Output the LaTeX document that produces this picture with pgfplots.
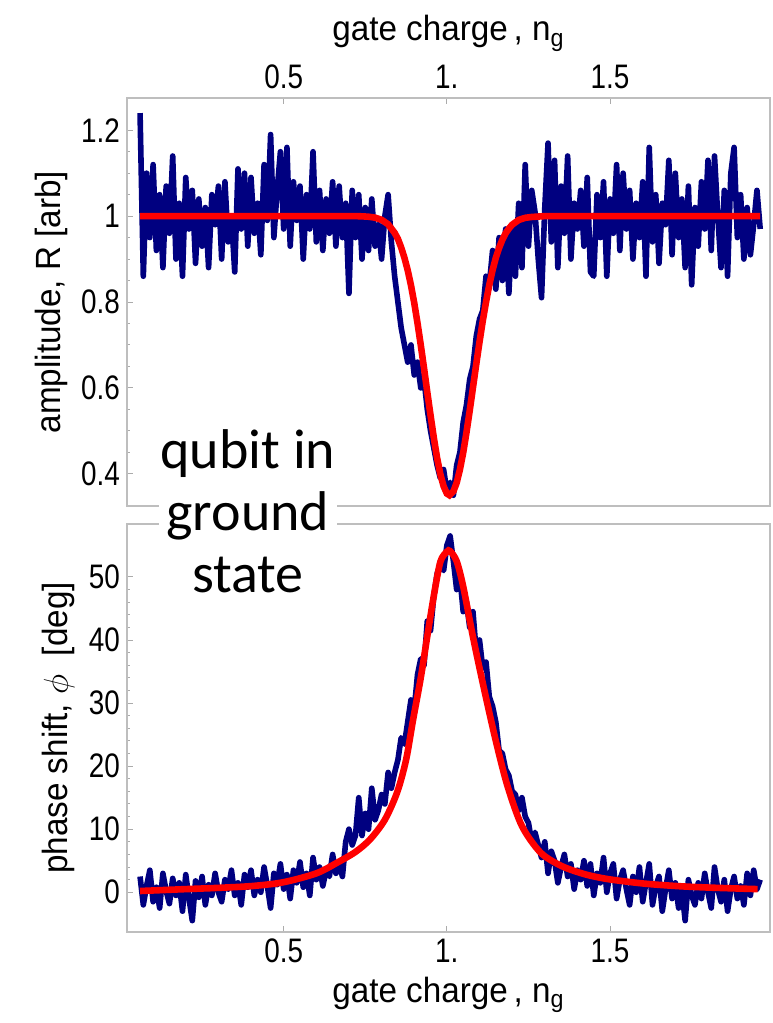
\documentclass[border=0pt]{standalone}
\usepackage{fontspec}
\usepackage{pgfplots}
\pgfplotsset{compat=1.18}
\setmainfont{Liberation Sans}
\newfontfamily\tickfont{Liberation Sans}[FakeStretch=0.82]
\newfontfamily\labfont{Liberation Sans}[FakeStretch=0.95]
\newfontfamily\qfont{Carlito}
\definecolor{dnavy}{RGB}{0,0,128}
\definecolor{framegray}{RGB}{190,190,190}
\pgfplotsset{
  mystyle/.style={
    width=321.5pt, height=204pt, scale only axis,
    xmin=0.02, xmax=1.99,
    axis line style={framegray, line width=0.6pt},
    tick style={framegray!90!black, line width=0.5pt},
    major tick length=3pt, minor tick length=1.6pt,
    tick align=inside,
    ytick pos=left,
    xtick={0.5,1,1.5}, xticklabels={0.5,1.,1.5},
    /pgf/number format/assume math mode=true,
    ticklabel style={font=\fontsize{17}{20}\tickfont},
    label style={font=\fontsize{17.5}{20}\labfont},
  }
}
\begin{document}
\begin{tikzpicture}[x=1pt,y=1pt]
\path[use as bounding box] (0,0) rectangle (386,511.5);
% top panel
\begin{axis}[mystyle, at={(63.5pt,258.5pt)}, anchor=south west,
  ymin=0.325, ymax=1.275,
  xtick pos=upper, xticklabel pos=upper,
  ytick={0.4,0.6,0.8,1,1.2}, yticklabels={0.4,0.6,0.8,1,1.2},
  minor y tick num=3,
  xlabel={gate charge\,, n\textsubscript{g}},
  ylabel={amplitude, R [arb]},
  xticklabel style={yshift=1pt},
]
\addplot[dnavy, line width=2.8pt, line join=round] coordinates {
(0.06,1.24)(0.07,0.86)(0.08,1.10)(0.09,0.95)(0.10,1.12)(0.11,0.92)(0.12,1.05)(0.13,0.88)(0.14,1.07)(0.15,0.96)
(0.16,1.14)(0.17,0.90)(0.18,1.03)(0.19,0.86)(0.20,1.09)(0.21,0.97)(0.22,1.06)(0.23,0.89)(0.24,1.04)(0.25,0.93)
(0.26,1.02)(0.27,0.88)(0.28,1.05)(0.29,0.98)(0.30,1.07)(0.31,0.90)(0.32,1.08)(0.33,0.94)(0.34,1.00)(0.35,0.87)
(0.36,1.11)(0.37,0.97)(0.38,1.10)(0.39,0.93)(0.40,1.09)(0.41,0.96)(0.42,1.03)(0.43,0.91)(0.44,1.12)(0.45,0.99)
(0.46,1.19)(0.47,0.95)(0.48,1.06)(0.49,1.15)(0.50,0.97)(0.51,1.16)(0.52,0.93)(0.53,1.08)(0.54,0.99)(0.55,1.07)
(0.56,0.90)(0.57,1.05)(0.58,0.97)(0.59,1.15)(0.60,0.94)(0.61,1.06)(0.62,0.92)(0.63,1.04)(0.64,0.96)(0.65,1.08)
(0.66,0.93)(0.67,1.07)(0.68,0.95)(0.69,1.03)(0.70,0.82)(0.71,1.06)(0.72,0.95)(0.73,1.05)(0.74,0.90)(0.75,1.02)
(0.76,0.92)(0.77,1.04)(0.78,0.93)(0.79,0.98)(0.80,0.90)(0.81,1.00)(0.82,1.05)(0.83,0.94)(0.84,0.86)(0.85,0.80)
(0.86,0.74)(0.87,0.70)(0.88,0.66)(0.89,0.70)(0.90,0.63)(0.91,0.66)(0.92,0.60)(0.93,0.62)(0.94,0.55)(0.95,0.50)
(0.96,0.46)(0.97,0.42)(0.98,0.39)(0.99,0.41)(1.00,0.36)(1.01,0.38)(1.02,0.35)(1.03,0.42)(1.04,0.45)(1.05,0.52)
(1.06,0.56)(1.07,0.62)(1.08,0.65)(1.09,0.72)(1.10,0.76)(1.11,0.78)(1.12,0.86)(1.13,0.84)(1.14,0.92)(1.15,0.83)
(1.16,0.95)(1.17,0.85)(1.18,0.97)(1.19,0.82)(1.20,0.98)(1.21,0.86)(1.22,1.03)(1.23,0.88)(1.24,1.12)(1.25,0.93)
(1.26,1.06)(1.27,1.01)(1.28,0.90)(1.29,0.81)(1.30,1.02)(1.31,1.17)(1.32,0.94)(1.33,1.13)(1.34,0.88)(1.35,1.07)
(1.36,0.96)(1.37,1.14)(1.38,0.90)(1.39,1.03)(1.40,0.97)(1.41,1.06)(1.42,0.93)(1.43,1.09)(1.44,0.87)(1.45,0.86)
(1.46,1.05)(1.47,0.95)(1.48,1.08)(1.49,0.86)(1.50,1.04)(1.51,0.96)(1.52,1.12)(1.53,0.92)(1.54,1.10)(1.55,0.97)
(1.56,1.06)(1.57,0.90)(1.58,1.03)(1.59,0.95)(1.60,1.08)(1.61,0.86)(1.62,1.16)(1.63,0.94)(1.64,1.05)(1.65,0.89)
(1.66,1.03)(1.67,0.98)(1.68,1.13)(1.69,0.91)(1.70,1.10)(1.71,0.95)(1.72,1.04)(1.73,0.88)(1.74,1.07)(1.75,0.84)
(1.76,1.02)(1.77,0.93)(1.78,1.08)(1.79,0.97)(1.80,1.13)(1.81,0.92)(1.82,1.14)(1.83,1.00)(1.84,0.88)(1.85,1.06)
(1.86,0.86)(1.87,1.10)(1.88,1.16)(1.89,0.95)(1.90,1.05)(1.91,0.90)(1.92,1.02)(1.93,0.91)(1.94,0.98)(1.95,1.06)
(1.96,0.97)
};
\addplot[red, line width=3.3pt] coordinates {
(0.06,1)(0.70,1)(0.72,1)(0.74,0.9995)(0.76,0.9986)(0.78,0.9964)(0.80,0.9914)(0.82,0.981)(0.84,0.961)(0.85,0.947)
(0.86,0.927)(0.87,0.903)(0.88,0.874)(0.89,0.839)(0.90,0.798)(0.91,0.751)(0.92,0.700)(0.93,0.646)(0.94,0.590)
(0.95,0.536)(0.96,0.484)(0.97,0.437)(0.98,0.399)(0.99,0.371)(1.00,0.354)(1.008,0.350)(1.02,0.359)(1.03,0.379)
(1.04,0.410)(1.05,0.449)(1.06,0.496)(1.07,0.547)(1.08,0.601)(1.09,0.655)(1.10,0.707)(1.11,0.756)(1.12,0.800)
(1.13,0.840)(1.14,0.874)(1.15,0.903)(1.16,0.926)(1.17,0.945)(1.18,0.960)(1.19,0.971)(1.20,0.980)(1.22,0.991)
(1.24,0.996)(1.26,0.998)(1.30,1)(1.96,1)
};
\end{axis}
% bottom panel
\begin{axis}[mystyle, at={(63.5pt,45.5pt)}, anchor=south west,
  ymin=-6.3, ymax=58.4,
  xtick pos=lower, xticklabel pos=lower,
  ytick={0,10,20,30,40,50},
  minor y tick num=4,
  xlabel={gate charge\,, n\textsubscript{g}},
  ylabel={phase shift, $\phi$\ \ [deg]},
]
\addplot[dnavy, line width=2.8pt, line join=round] coordinates {
(0.06,2.5)(0.07,-2.0)(0.08,1.0)(0.09,3.5)(0.10,-1.5)(0.11,0.8)(0.12,-2.5)(0.13,3.0)(0.14,0.2)(0.15,-1.8)
(0.16,2.2)(0.17,-0.5)(0.18,1.5)(0.19,-3.0)(0.20,2.8)(0.21,-1.0)(0.22,-4.5)(0.23,1.8)(0.24,-0.8)(0.25,2.5)
(0.26,-2.0)(0.27,1.2)(0.28,-0.5)(0.29,3.0)(0.30,0.0)(0.31,-1.5)(0.32,2.0)(0.33,0.5)(0.34,3.5)(0.35,-0.5)
(0.36,1.5)(0.37,-2.0)(0.38,2.8)(0.39,0.8)(0.40,3.5)(0.41,-0.5)(0.42,2.0)(0.43,0.0)(0.44,4.0)(0.45,1.0)
(0.46,-2.5)(0.47,3.0)(0.48,1.2)(0.49,4.5)(0.50,0.5)(0.51,2.8)(0.52,-1.0)(0.53,3.5)(0.54,1.5)(0.55,4.8)
(0.56,0.8)(0.57,3.0)(0.58,-0.5)(0.59,5.5)(0.60,2.0)(0.61,4.0)(0.62,1.0)(0.63,3.5)(0.64,2.5)(0.65,6.0)
(0.66,3.0)(0.67,4.5)(0.68,2.5)(0.69,8.0)(0.70,10.0)(0.71,7.5)(0.72,9.0)(0.73,15.0)(0.74,9.0)(0.75,12.5)
(0.76,10.0)(0.77,16.5)(0.78,11.5)(0.79,13.0)(0.80,15.5)(0.81,14.0)(0.82,19.0)(0.83,16.5)(0.84,19.0)(0.85,21.0)
(0.86,24.5)(0.87,23.5)(0.88,27.0)(0.89,30.5)(0.90,29.0)(0.91,34.5)(0.92,37.0)(0.93,36.0)(0.94,43.0)(0.95,41.5)
(0.96,47.0)(0.97,50.5)(0.98,52.0)(0.99,51.0)(1.00,55.0)(1.01,56.5)(1.02,52.5)(1.03,48.0)(1.04,50.0)(1.05,44.5)
(1.06,46.0)(1.07,42.0)(1.08,44.5)(1.09,38.0)(1.10,40.0)(1.11,35.5)(1.12,36.5)(1.13,31.0)(1.14,29.5)(1.15,27.0)
(1.16,22.5)(1.17,22.0)(1.18,19.5)(1.19,18.5)(1.20,16.0)(1.21,15.5)(1.22,13.0)(1.23,15.0)(1.24,12.0)(1.25,11.0)
(1.26,8.0)(1.27,9.5)(1.28,7.5)(1.29,5.5)(1.30,8.0)(1.31,3.0)(1.32,6.5)(1.33,5.0)(1.34,1.5)(1.35,4.0)
(1.36,6.0)(1.37,2.5)(1.38,4.5)(1.39,0.5)(1.40,3.5)(1.41,2.0)(1.42,5.0)(1.43,1.0)(1.44,4.5)(1.45,-0.5)
(1.46,3.0)(1.47,1.5)(1.48,5.5)(1.49,0.0)(1.50,3.0)(1.51,4.5)(1.52,-1.0)(1.53,2.0)(1.54,3.5)(1.55,0.5)
(1.56,-2.0)(1.57,2.5)(1.58,0.0)(1.59,4.0)(1.60,-1.5)(1.61,1.5)(1.62,4.5)(1.63,-2.0)(1.64,1.0)(1.65,2.5)
(1.66,-3.0)(1.67,0.5)(1.68,3.5)(1.69,-1.0)(1.70,1.5)(1.71,-2.5)(1.72,0.5)(1.73,-4.5)(1.74,2.0)(1.75,-0.5)
(1.76,-2.0)(1.77,1.5)(1.78,-1.0)(1.79,3.0)(1.80,0.0)(1.81,-2.5)(1.82,4.0)(1.83,0.5)(1.84,-1.5)(1.85,2.0)
(1.86,-3.0)(1.87,0.5)(1.88,2.5)(1.89,-1.0)(1.90,1.0)(1.91,-2.0)(1.92,3.0)(1.93,-0.5)(1.94,3.5)(1.95,0.5)
(1.96,2.0)
};
\addplot[red, line width=3.3pt, smooth] coordinates {
(0.06,0.2)(0.2,0.5)(0.3,0.7)(0.406,1.0)(0.5,1.6)(0.6,3.0)(0.664,4.7)(0.72,6.4)(0.765,8.4)(0.81,11.5)
(0.848,15.9)(0.875,21)(0.897,27.5)(0.92,34)(0.94,40.6)(0.96,47)(0.98,52.4)(1.0,54)(1.01,54.1)(1.03,52.5)
(1.05,48.5)(1.08,40.5)(1.112,32.7)(1.15,24)(1.186,16.8)(1.23,10.5)(1.287,6.3)(1.35,4.2)(1.42,2.9)(1.492,2.1)
(1.6,1.4)(1.7,1.0)(1.8,0.75)(1.952,0.5)
};
\end{axis}
\node[fill=white, inner sep=1pt, align=center, font=\fontsize{28}{31}\qfont]
  at (124,256) {qubit in\\ground\\state};
\end{tikzpicture}
\end{document}
